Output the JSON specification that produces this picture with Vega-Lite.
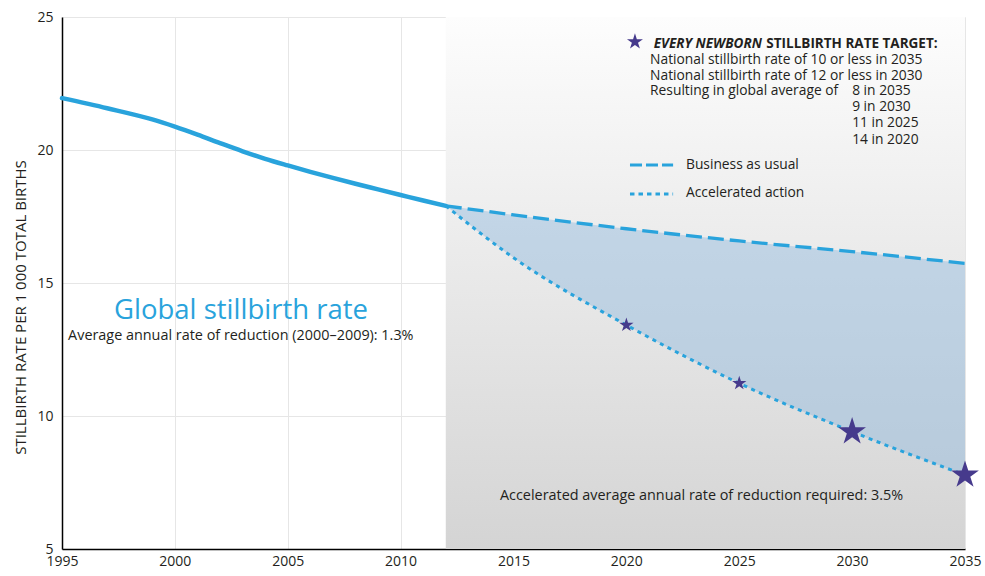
{
  "$schema": "https://vega.github.io/schema/vega-lite/v6.json",
  "width": 903,
  "height": 532,
  "autosize": {"type": "none"},
  "padding": {"left": 62, "top": 17, "right": 20, "bottom": 27},
  "background": "white",
  "config": {
    "view": {"stroke": null},
    "font": "Open Sans",
    "axis": {
      "labelFont": "Open Sans",
      "labelFontSize": 14,
      "labelColor": "#231f20",
      "ticks": false,
      "domainColor": "#000000",
      "domainWidth": 1.5,
      "grid": true,
      "gridColor": "#e6e6e6",
      "gridWidth": 1,
      "zindex": 1
    },
    "axisX": {"format": "d", "tickCount": 8, "labelPadding": 5, "labelFlush": false},
    "axisY": {
      "tickCount": 4,
      "labelPadding": 9,
      "titleFont": "Open Sans",
      "titleFontSize": 15,
      "titleFontWeight": "normal",
      "titleColor": "#231f20",
      "titleAngle": -90,
      "titleBaseline": "alphabetic",
      "titleAlign": "center",
      "titleX": -37,
      "titleY": 290,
      "titleLetterSpacing": 1.1
    },
    "text": {"font": "Open Sans", "color": "#231f20", "fontSize": 14, "baseline": "alphabetic", "align": "left"}
  },
  "datasets": {
    "history": [
      {"year": 1995, "rate": 21.95},
      {"year": 1997, "rate": 21.57},
      {"year": 1999, "rate": 21.15},
      {"year": 2000, "rate": 20.88},
      {"year": 2001, "rate": 20.58},
      {"year": 2002, "rate": 20.26},
      {"year": 2003, "rate": 19.95},
      {"year": 2004, "rate": 19.67},
      {"year": 2005, "rate": 19.42},
      {"year": 2006, "rate": 19.18},
      {"year": 2007, "rate": 18.95},
      {"year": 2008, "rate": 18.73},
      {"year": 2009, "rate": 18.52},
      {"year": 2010, "rate": 18.31},
      {"year": 2011, "rate": 18.1},
      {"year": 2012, "rate": 17.9}
    ],
    "projection": [
      {"year": 2012, "bau": 17.9, "acc": 17.9},
      {"year": 2015, "bau": 17.56, "acc": 15.95},
      {"year": 2020, "bau": 17.04, "acc": 13.42},
      {"year": 2025, "bau": 16.58, "acc": 11.23},
      {"year": 2030, "bau": 16.18, "acc": 9.41},
      {"year": 2035, "bau": 15.74, "acc": 7.78}
    ],
    "targets": [
      {"year": 2020, "rate": 13.42},
      {"year": 2025, "rate": 11.23},
      {"year": 2030, "rate": 9.41},
      {"year": 2035, "rate": 7.78}
    ],
    "period": [{"start": 2012, "end": 2035}],
    "legendLines": [
      {"text": "National stillbirth rate of 10 or less in 2035", "x": 2021.05, "y": 23.22},
      {"text": "National stillbirth rate of 12 or less in 2030", "x": 2021.05, "y": 22.65},
      {"text": "Resulting in global average of", "x": 2021.05, "y": 22.05},
      {"text": "8 in 2035", "x": 2030.0, "y": 22.05},
      {"text": "9 in 2030", "x": 2030.0, "y": 21.45},
      {"text": "11 in 2025", "x": 2030.0, "y": 20.85},
      {"text": "14 in 2020", "x": 2030.0, "y": 20.24},
      {"text": "Business as usual", "x": 2022.64, "y": 19.27},
      {"text": "Accelerated action", "x": 2022.64, "y": 18.24}
    ],
    "notes": [
      {"text": "Average annual rate of reduction (2000–2009): 1.3%", "x": 1995.27, "y": 12.86},
      {"text": "Accelerated average annual rate of reduction required: 3.5%", "x": 2014.4, "y": 6.84}
    ],
    "keys": [
      {"series": "Business as usual", "x": 2020.16, "x2": 2022.07, "y": 19.44},
      {"series": "Accelerated action", "x": 2020.16, "x2": 2022.07, "y": 18.35}
    ]
  },
  "layer": [
    {
      "data": {"name": "period"},
      "mark": {
        "type": "rect",
        "fill": {
          "gradient": "linear",
          "x1": 0, "y1": 0, "x2": 0, "y2": 1,
          "stops": [
            {"offset": 0, "color": "#fdfdfd"},
            {"offset": 1, "color": "#d4d4d4"}
          ]
        }
      },
      "encoding": {
        "x": {"field": "start", "type": "quantitative", "scale": {"domain": [1995, 2035], "nice": false, "zero": false}, "title": null},
        "x2": {"field": "end"}
      }
    },
    {
      "data": {"name": "projection"},
      "mark": {"type": "area", "interpolate": "monotone", "fill": "#8fb8dd", "opacity": 0.45},
      "encoding": {
        "x": {"field": "year", "type": "quantitative", "title": null},
        "y": {"field": "acc", "type": "quantitative", "scale": {"domain": [5, 25], "nice": false, "zero": false}, "title": "STILLBIRTH RATE PER 1 000 TOTAL BIRTHS"},
        "y2": {"field": "bau"}
      }
    },
    {
      "data": {"name": "projection"},
      "mark": {"type": "line", "interpolate": "monotone", "color": "#29a3dc", "strokeWidth": 3.3, "strokeDash": [16, 6]},
      "encoding": {
        "x": {"field": "year", "type": "quantitative", "title": null},
        "y": {"field": "bau", "type": "quantitative", "title": "STILLBIRTH RATE PER 1 000 TOTAL BIRTHS"}
      }
    },
    {
      "data": {"name": "projection"},
      "mark": {"type": "line", "interpolate": "monotone", "color": "#29a3dc", "strokeWidth": 3, "strokeDash": [4, 4.5]},
      "encoding": {
        "x": {"field": "year", "type": "quantitative", "title": null},
        "y": {"field": "acc", "type": "quantitative", "title": "STILLBIRTH RATE PER 1 000 TOTAL BIRTHS"}
      }
    },
    {
      "data": {"name": "history"},
      "mark": {"type": "line", "interpolate": "monotone", "color": "#29a3dc", "strokeWidth": 4.5, "strokeCap": "round"},
      "encoding": {
        "x": {"field": "year", "type": "quantitative", "title": null},
        "y": {"field": "rate", "type": "quantitative", "title": "STILLBIRTH RATE PER 1 000 TOTAL BIRTHS"}
      }
    },
    {
      "data": {"name": "targets"},
      "transform": [{"filter": "datum.year < 2028"}],
      "mark": {"type": "point", "shape": "M0,-1L0.2245,-0.309L0.9511,-0.309L0.3633,0.118L0.5878,0.809L0,0.382L-0.5878,0.809L-0.3633,0.118L-0.9511,-0.309L-0.2245,-0.309Z", "filled": true, "color": "#463a8c", "opacity": 1, "size": 226},
      "encoding": {
        "x": {"field": "year", "type": "quantitative", "title": null},
        "y": {"field": "rate", "type": "quantitative", "title": "STILLBIRTH RATE PER 1 000 TOTAL BIRTHS"}
      }
    },
    {
      "data": {"name": "targets"},
      "transform": [{"filter": "datum.year > 2028"}],
      "mark": {"type": "point", "shape": "M0,-1L0.2245,-0.309L0.9511,-0.309L0.3633,0.118L0.5878,0.809L0,0.382L-0.5878,0.809L-0.3633,0.118L-0.9511,-0.309L-0.2245,-0.309Z", "filled": true, "color": "#463a8c", "opacity": 1, "size": 850},
      "encoding": {
        "x": {"field": "year", "type": "quantitative", "title": null},
        "y": {"field": "rate", "type": "quantitative", "title": "STILLBIRTH RATE PER 1 000 TOTAL BIRTHS"}
      }
    },
    {
      "data": {"values": [{"x": 2020.38, "y": 24.07}]},
      "mark": {"type": "point", "shape": "M0,-1L0.2245,-0.309L0.9511,-0.309L0.3633,0.118L0.5878,0.809L0,0.382L-0.5878,0.809L-0.3633,0.118L-0.9511,-0.309L-0.2245,-0.309Z", "filled": true, "color": "#463a8c", "opacity": 1, "size": 283},
      "encoding": {
        "x": {"field": "x", "type": "quantitative", "title": null},
        "y": {"field": "y", "type": "quantitative", "title": "STILLBIRTH RATE PER 1 000 TOTAL BIRTHS"}
      }
    },
    {
      "data": {"name": "keys"},
      "transform": [{"filter": "datum.series == 'Business as usual'"}],
      "mark": {"type": "rule", "color": "#29a3dc", "strokeWidth": 3, "strokeDash": [12, 4]},
      "encoding": {
        "x": {"field": "x", "type": "quantitative", "title": null},
        "x2": {"field": "x2"},
        "y": {"field": "y", "type": "quantitative", "title": "STILLBIRTH RATE PER 1 000 TOTAL BIRTHS"}
      }
    },
    {
      "data": {"name": "keys"},
      "transform": [{"filter": "datum.series == 'Accelerated action'"}],
      "mark": {"type": "rule", "color": "#29a3dc", "strokeWidth": 3, "strokeDash": [4.5, 4]},
      "encoding": {
        "x": {"field": "x", "type": "quantitative", "title": null},
        "x2": {"field": "x2"},
        "y": {"field": "y", "type": "quantitative", "title": "STILLBIRTH RATE PER 1 000 TOTAL BIRTHS"}
      }
    },
    {
      "data": {"name": "legendLines"},
      "mark": {"type": "text", "fontSize": 13.8},
      "encoding": {
        "x": {"field": "x", "type": "quantitative", "title": null},
        "y": {"field": "y", "type": "quantitative", "title": "STILLBIRTH RATE PER 1 000 TOTAL BIRTHS"},
        "text": {"field": "text"}
      }
    },
    {
      "data": {"name": "notes"},
      "mark": {"type": "text", "fontSize": 14.4},
      "encoding": {
        "x": {"field": "x", "type": "quantitative", "title": null},
        "y": {"field": "y", "type": "quantitative", "title": "STILLBIRTH RATE PER 1 000 TOTAL BIRTHS"},
        "text": {"field": "text"}
      }
    },
    {
      "data": {"values": [{"text": "EVERY NEWBORN", "x": 2026.0, "y": 23.82}]},
      "mark": {"type": "text", "fontWeight": "bold", "fontStyle": "italic", "align": "right", "fontSize": 13.5},
      "encoding": {
        "x": {"field": "x", "type": "quantitative", "title": null},
        "y": {"field": "y", "type": "quantitative", "title": "STILLBIRTH RATE PER 1 000 TOTAL BIRTHS"},
        "text": {"field": "text"}
      }
    },
    {
      "data": {"values": [{"text": "STILLBIRTH RATE TARGET:", "x": 2026.2, "y": 23.82}]},
      "mark": {"type": "text", "fontWeight": "bold", "align": "left", "fontSize": 13.5},
      "encoding": {
        "x": {"field": "x", "type": "quantitative", "title": null},
        "y": {"field": "y", "type": "quantitative", "title": "STILLBIRTH RATE PER 1 000 TOTAL BIRTHS"},
        "text": {"field": "text"}
      }
    },
    {
      "data": {"values": [{"text": "Global stillbirth rate", "x": 2002.93, "y": 13.64}]},
      "mark": {"type": "text", "fontSize": 27.5, "color": "#29a3dc", "align": "center"},
      "encoding": {
        "x": {"field": "x", "type": "quantitative", "title": null},
        "y": {"field": "y", "type": "quantitative", "title": "STILLBIRTH RATE PER 1 000 TOTAL BIRTHS"},
        "text": {"field": "text"}
      }
    }
  ]
}
